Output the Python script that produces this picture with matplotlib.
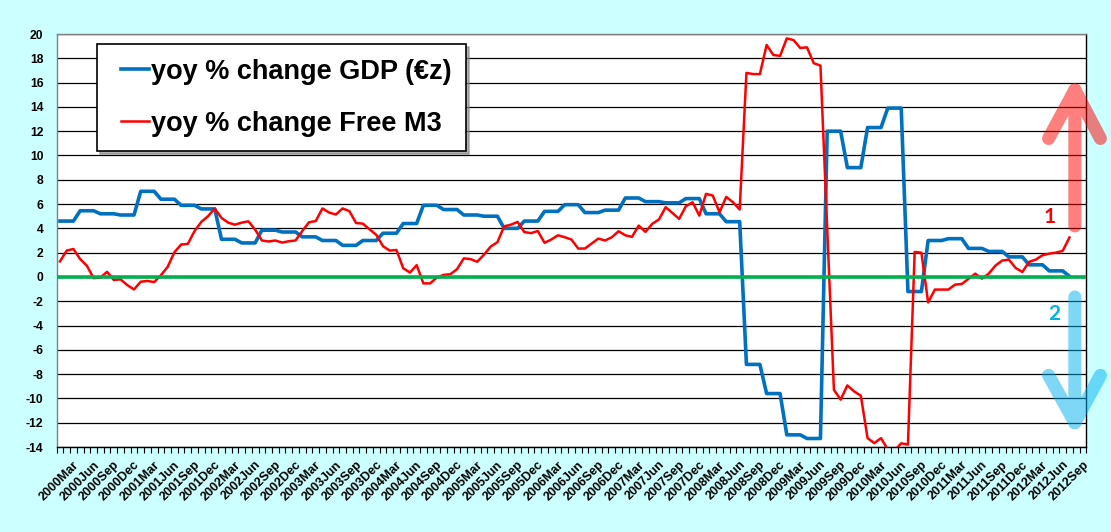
import numpy as np
import matplotlib
matplotlib.use("Agg")
import matplotlib.pyplot as plt
from matplotlib.transforms import ScaledTranslation
from matplotlib.legend_handler import HandlerLine2D

plt.rcParams['font.family'] = ['Liberation Sans', 'DejaVu Sans']
plt.rcParams['axes.unicode_minus'] = False

# ---------------- data ----------------
# monthly categories 2000Mar .. 2012Nov (last two empty), labels every 3 months
n_categories = 153
tick_labels = ["2000Mar", "2000Jun", "2000Sep", "2000Dec",
               "2001Mar", "2001Jun", "2001Sep", "2001Dec",
               "2002Mar", "2002Jun", "2002Sep", "2002Dec",
               "2003Mar", "2003Jun", "2003Sep", "2003Dec",
               "2004Mar", "2004Jun", "2004Sep", "2004Dec",
               "2005Mar", "2005Jun", "2005Sep", "2005Dec",
               "2006Mar", "2006Jun", "2006Sep", "2006Dec",
               "2007Mar", "2007Jun", "2007Sep", "2007Dec",
               "2008Mar", "2008Jun", "2008Sep", "2008Dec",
               "2009Mar", "2009Jun", "2009Sep", "2009Dec",
               "2010Mar", "2010Jun", "2010Sep", "2010Dec",
               "2011Mar", "2011Jun", "2011Sep", "2011Dec",
               "2012Mar", "2012Jun", "2012Sep"]

gdp_yoy = [4.6, 4.6, 4.6, 5.45, 5.45, 5.45, 5.2, 5.2, 5.2, 5.1, 5.1, 5.1,
           7.05, 7.05, 7.05, 6.4, 6.4, 6.4, 5.9, 5.9, 5.9, 5.6, 5.6, 5.6,
           3.1, 3.1, 3.1, 2.8, 2.8, 2.8, 3.85, 3.85, 3.85, 3.7, 3.7, 3.7,
           3.3, 3.3, 3.3, 3.0, 3.0, 3.0, 2.6, 2.6, 2.6, 3.0, 3.0, 3.0,
           3.6, 3.6, 3.6, 4.4, 4.4, 4.4, 5.9, 5.9, 5.9, 5.55, 5.55, 5.55,
           5.1, 5.1, 5.1, 5.0, 5.0, 5.0, 4.0, 4.0, 4.0, 4.6, 4.6, 4.6,
           5.4, 5.4, 5.4, 5.95, 5.95, 5.95, 5.3, 5.3, 5.3, 5.5, 5.5, 5.5,
           6.5, 6.5, 6.5, 6.2, 6.2, 6.2, 6.1, 6.1, 6.1, 6.45, 6.45, 6.45,
           5.2, 5.2, 5.2, 4.55, 4.55, 4.55, -7.2, -7.2, -7.2, -9.6, -9.6, -9.6,
           -13.0, -13.0, -13.0, -13.3, -13.3, -13.3, 12.0, 12.0, 12.0, 9.0, 9.0, 9.0,
           12.3, 12.3, 12.3, 13.9, 13.9, 13.9, -1.2, -1.2, -1.2, 3.0, 3.0, 3.0,
           3.15, 3.15, 3.15, 2.35, 2.35, 2.35, 2.1, 2.1, 2.1, 1.65, 1.65, 1.65,
           1.0, 1.0, 1.0, 0.5, 0.5, 0.5, 0.05]

m3_yoy = [1.28, 2.17, 2.3, 1.47, 0.92, -0.1, -0.05, 0.42, -0.25, -0.2, -0.67, -1.03,
          -0.39, -0.33, -0.42, 0.14, 0.83, 2.03, 2.67, 2.72, 3.78, 4.53, 5.0, 5.64,
          4.86, 4.47, 4.3, 4.47, 4.58, 3.9, 3.0, 2.92, 3.0, 2.83, 2.94, 3.0,
          3.78, 4.5, 4.6, 5.64, 5.3, 5.14, 5.64, 5.42, 4.44, 4.39, 3.92, 3.47,
          2.53, 2.17, 2.22, 0.72, 0.36, 0.97, -0.53, -0.53, -0.05, 0.17, 0.22, 0.64,
          1.53, 1.47, 1.25, 1.83, 2.5, 2.86, 4.17, 4.3, 4.53, 3.69, 3.61, 3.78,
          2.81, 3.08, 3.43, 3.27, 3.08, 2.34, 2.34, 2.75, 3.16, 3.0, 3.27, 3.76,
          3.43, 3.3, 4.23, 3.71, 4.37, 4.73, 5.74, 5.27, 4.78, 5.82, 6.15, 5.05,
          6.84, 6.7, 5.33, 6.59, 6.15, 5.55, 16.8, 16.7, 16.7, 19.1, 18.27, 18.2,
          19.64, 19.5, 18.85, 18.9, 17.6, 17.4, 4.0, -9.29, -10.1, -8.93, -9.42, -9.78,
          -13.27, -13.68, -13.27, -14.2, -14.3, -13.7, -13.8, 2.06, 2.0, -2.1, -1.04, -1.04,
          -1.04, -0.63, -0.58, -0.16, 0.27, -0.14, 0.27, 0.93, 1.35, 1.43, 0.74, 0.41,
          1.24, 1.43, 1.79, 1.92, 2.0, 2.15, 3.25]

gdp_label = "yoy % change GDP (\u20acz)"
m3_label = "yoy % change Free M3"

# ---------------- figure ----------------
BG = '#CCFFFF'
fig = plt.figure(figsize=(11.11, 5.32), dpi=100, facecolor=BG)
ax = fig.add_axes([0.05095, 0.15977, 0.9268, 0.7763])
ax.set_facecolor('white')

x_gdp = np.arange(len(gdp_yoy))
x_m3 = np.arange(len(m3_yoy))

ax.set_xlim(-0.5, n_categories - 0.5)
ax.set_ylim(-14, 20)

# gridlines
ax.set_yticks(np.arange(-14, 21, 2))
ax.yaxis.grid(True, color='black', linewidth=0.9)
ax.set_axisbelow(True)

l_gdp, = ax.plot(x_gdp, gdp_yoy, color='#0070C0', linewidth=2.6, zorder=3,
                 solid_joinstyle='round', label=gdp_label)
l_m3, = ax.plot(x_m3, m3_yoy, color='#FF0000', linewidth=1.8, zorder=3.5,
                solid_joinstyle='round', label=m3_label)
ax.axhline(0, color='#00B050', linewidth=2.6, zorder=4)

# spines
ax.spines['left'].set_color('#808080')
ax.spines['top'].set_color('#808080')
ax.spines['right'].set_color('black')
ax.spines['bottom'].set_color('black')
for s in ax.spines.values():
    s.set_linewidth(1.0)

# y tick labels
ax.tick_params(axis='y', length=0, pad=9.5, labelsize=8.7, labelcolor='black')
for t in ax.get_yticklabels():
    t.set_fontweight('bold')

# x ticks: minor tick marks at category boundaries, labels every 3rd category
ax.set_xticks(np.arange(-0.5, n_categories, 1.0), minor=True)
ax.tick_params(axis='x', which='minor', length=4, width=0.8, color='black', direction='out')
ax.set_xticks(np.arange(0, len(tick_labels) * 3, 3))
ax.set_xticklabels(tick_labels, rotation=45, ha='right', va='top',
                   rotation_mode='anchor', fontsize=9, fontweight='bold')
ax.tick_params(axis='x', which='major', length=0, pad=8.5)
off = ScaledTranslation(13 / 100, 0, fig.dpi_scale_trans)
for t in ax.get_xticklabels():
    t.set_transform(t.get_transform() + off)

# legend
leg = ax.legend(handles=[l_gdp, l_m3], loc='upper left',
                bbox_to_anchor=(0.0392, 0.976), borderaxespad=0,
                prop={'family': 'Liberation Sans', 'weight': 'bold', 'size': 19.5},
                frameon=True, fancybox=False, shadow={'color': '0.5', 'alpha': 0.6},
                borderpad=0.55, labelspacing=0.95, handlelength=1.36,
                handletextpad=0.08,
                handler_map={l_gdp: HandlerLine2D(xpad=0.34), l_m3: HandlerLine2D(xpad=0.34)})
leg.get_frame().set_edgecolor('black')
leg.get_frame().set_linewidth(1.2)
leg.set_zorder(10)

# annotation arrows (1 up, 2 down)
def open_arrow(xc, xl, xr, y_tail, y_tip, y_arm, color):
    xs = [xc, xc, np.nan, xl, xc, xr]
    ys = [y_tail, y_tip, np.nan, y_arm, y_tip, y_arm]
    ax.plot(xs, ys, color=color, alpha=0.5, linewidth=9.4,
            solid_capstyle='round', solid_joinstyle='round', clip_on=False, zorder=6)

open_arrow(150.8, 146.9, 154.6, 4.2, 15.4, 11.4, '#FF0000')
open_arrow(150.8, 146.9, 154.6, -1.65, -12.0, -8.1, '#00B0F0')
ax.text(147.1, 4.95, "1", color='#FF0000', fontsize=15, fontweight='bold',
        family=['Lato', 'DejaVu Sans'], ha='center', va='center', zorder=7)
ax.text(147.7, -3.05, "2", color='#00B0F0', fontsize=15, fontweight='bold',
        family=['Lato', 'DejaVu Sans'], ha='center', va='center', zorder=7)

fig.savefig('out.png', dpi=100, facecolor=BG)
